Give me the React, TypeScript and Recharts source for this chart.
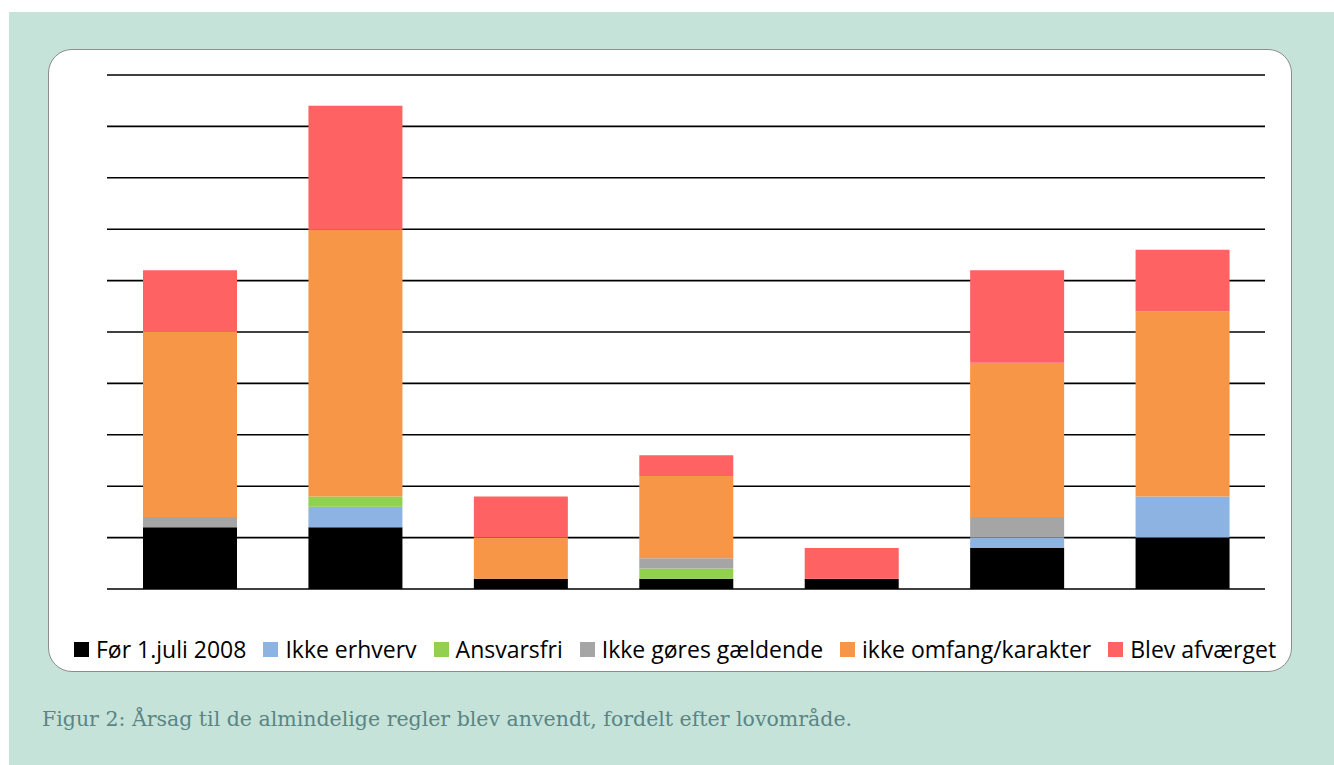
import { Bar, BarChart, CartesianGrid, XAxis, YAxis } from 'recharts'

// Lovområder (no labels shown on the axis in the figure)
const categories = ['Område 1', 'Område 2', 'Område 3', 'Område 4', 'Område 5', 'Område 6', 'Område 7']

const foer2008 = [6, 6, 1, 1, 1, 4, 5]
const ikkeErhverv = [0, 2, 0, 0, 0, 1, 4]
const ansvarsfri = [0, 1, 0, 1, 0, 0, 0]
const ikkeGoeres = [1, 0, 0, 1, 0, 2, 0]
const ikkeOmfang = [18, 26, 4, 8, 0, 15, 18]
const blevAfvaerget = [6, 12, 4, 2, 3, 9, 6]

const yTicks = [0, 5, 10, 15, 20, 25, 30, 35, 40, 45, 50]

const series = [
  { key: 'foer', name: 'Før 1.juli 2008', color: '#000000', values: foer2008 },
  { key: 'erhverv', name: 'Ikke erhverv', color: '#8db3e2', values: ikkeErhverv },
  { key: 'ansvarsfri', name: 'Ansvarsfri', color: '#92d050', values: ansvarsfri },
  { key: 'goeres', name: 'Ikke gøres gældende', color: '#a5a5a5', values: ikkeGoeres },
  { key: 'omfang', name: 'ikke omfang/karakter', color: '#f79646', values: ikkeOmfang },
  { key: 'afvaerget', name: 'Blev afværget', color: '#ff6262', values: blevAfvaerget },
]

const data = categories.map((c, i) => {
  const row: Record<string, string | number> = { name: c }
  series.forEach((s) => {
    row[s.key] = s.values[i]
  })
  return row
})

const FONT = '"Open Sans", "Noto Sans", sans-serif'

export default function App() {
  return (
    <div style={{ position: 'absolute', left: 0, top: 0, width: 1334, height: 765, background: '#fff' }}>
      <div style={{ position: 'absolute', left: 9, top: 12, right: 0, bottom: 0, background: '#c6e3d9' }} />
      <div
        style={{
          position: 'absolute',
          left: 48,
          top: 49,
          width: 1242,
          height: 621,
          background: '#fff',
          border: '1.5px solid #8c8c8c',
          borderRadius: 24,
        }}
      />
      <div style={{ position: 'absolute', left: 48, top: 50 }}>
        <BarChart
          width={1245}
          height={622}
          data={data}
          margin={{ top: 25, right: 28, left: 59, bottom: 83 }}
          barSize={94}
        >
          <CartesianGrid horizontal vertical={false} stroke="#000" strokeWidth={1.6} />
          <XAxis dataKey="name" hide />
          <YAxis hide domain={[0, 50]} ticks={yTicks} />
          {series.map((s) => (
            <Bar
              key={s.key}
              dataKey={s.key}
              name={s.name}
              stackId="a"
              fill={s.color}
              isAnimationActive={false}
            />
          ))}
        </BarChart>
      </div>
      <div
        style={{
          position: 'absolute',
          left: 74,
          top: 633,
          display: 'flex',
          alignItems: 'center',
          fontFamily: FONT,
          fontSize: 23,
          color: '#000',
          whiteSpace: 'nowrap',
        }}
      >
        {series.map((s) => (
          <div key={s.key} style={{ display: 'flex', alignItems: 'center', marginRight: 17 }}>
            <span style={{ width: 15, height: 15, background: s.color, marginRight: 7, display: 'inline-block' }} />
            <span>{s.name}</span>
          </div>
        ))}
      </div>
      <div
        style={{
          position: 'absolute',
          left: 42,
          top: 707,
          fontFamily: '"DejaVu Serif", serif',
          fontSize: 20.5,
          color: '#5a8585',
          whiteSpace: 'nowrap',
        }}
      >
        Figur 2: Årsag til de almindelige regler blev anvendt, fordelt efter lovområde.
      </div>
    </div>
  )
}
